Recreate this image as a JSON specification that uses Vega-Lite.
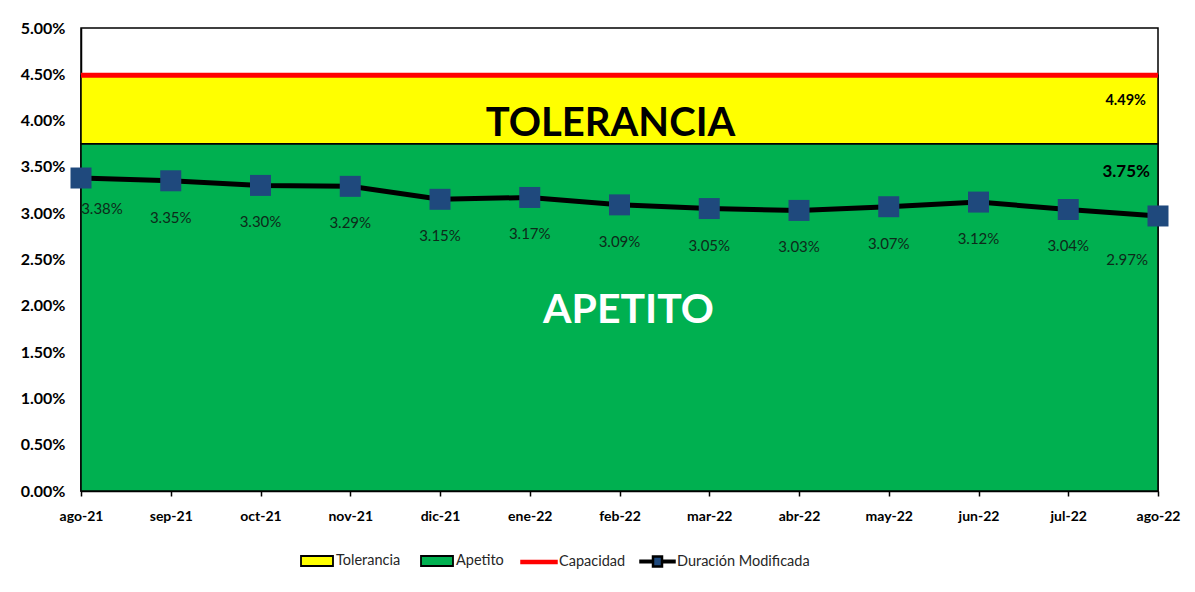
{
  "$schema": "https://vega.github.io/schema/vega-lite/v6.json",
  "width": 1077,
  "height": 463,
  "autosize": {"type": "none"},
  "padding": {"left": 81, "top": 28, "right": 37, "bottom": 101},
  "background": "white",
  "config": {
    "view": {"stroke": "black", "strokeWidth": 1.5},
    "font": "Lato",
    "legend": {
      "title": null,
      "orient": "none",
      "symbolSize": 400,
      "labelOffset": 8,
      "labelFont": "Lato",
      "labelFontSize": 14.5,
      "labelColor": "#262626",
      "legendY": 522
    }
  },
  "resolve": {"scale": {"color": "independent"}, "legend": {"color": "independent"}},
  "data": {
    "values": [
      {"mes": "ago-21", "apetito": 0.0375, "tolerancia": 0.0449, "capacidad": 0.0449, "duracion": 0.0338},
      {"mes": "sep-21", "apetito": 0.0375, "tolerancia": 0.0449, "capacidad": 0.0449, "duracion": 0.0335},
      {"mes": "oct-21", "apetito": 0.0375, "tolerancia": 0.0449, "capacidad": 0.0449, "duracion": 0.0330},
      {"mes": "nov-21", "apetito": 0.0375, "tolerancia": 0.0449, "capacidad": 0.0449, "duracion": 0.0329},
      {"mes": "dic-21", "apetito": 0.0375, "tolerancia": 0.0449, "capacidad": 0.0449, "duracion": 0.0315},
      {"mes": "ene-22", "apetito": 0.0375, "tolerancia": 0.0449, "capacidad": 0.0449, "duracion": 0.0317},
      {"mes": "feb-22", "apetito": 0.0375, "tolerancia": 0.0449, "capacidad": 0.0449, "duracion": 0.0309},
      {"mes": "mar-22", "apetito": 0.0375, "tolerancia": 0.0449, "capacidad": 0.0449, "duracion": 0.0305},
      {"mes": "abr-22", "apetito": 0.0375, "tolerancia": 0.0449, "capacidad": 0.0449, "duracion": 0.0303},
      {"mes": "may-22", "apetito": 0.0375, "tolerancia": 0.0449, "capacidad": 0.0449, "duracion": 0.0307},
      {"mes": "jun-22", "apetito": 0.0375, "tolerancia": 0.0449, "capacidad": 0.0449, "duracion": 0.0312},
      {"mes": "jul-22", "apetito": 0.0375, "tolerancia": 0.0449, "capacidad": 0.0449, "duracion": 0.0304},
      {"mes": "ago-22", "apetito": 0.0375, "tolerancia": 0.0449, "capacidad": 0.0449, "duracion": 0.0297}
    ]
  },
  "encoding": {
    "x": {
      "field": "mes",
      "type": "ordinal",
      "sort": null,
      "scale": {
        "type": "point",
        "padding": 0,
        "domain": ["ago-21","sep-21","oct-21","nov-21","dic-21","ene-22","feb-22","mar-22","abr-22","may-22","jun-22","jul-22","ago-22"]
      },
      "axis": {
        "title": null,
        "labelAngle": 0,
        "labelFont": "Lato",
        "labelFontWeight": "bold",
        "labelFontSize": 14,
        "labelColor": "black",
        "labelPadding": 13,
        "tickSize": 5,
        "tickColor": "black",
        "tickWidth": 1.5,
        "domainColor": "black",
        "domainWidth": 1.5,
        "grid": false
      }
    }
  },
  "layer": [
    {
      "mark": {"type": "area", "stroke": "black", "strokeWidth": 1.5, "opacity": 1},
      "encoding": {
        "y": {
          "field": "apetito",
          "type": "quantitative",
          "scale": {"domain": [0, 0.05], "nice": false},
          "axis": {
            "title": null,
            "format": ".2%",
            "values": [0, 0.005, 0.01, 0.015, 0.02, 0.025, 0.03, 0.035, 0.04, 0.045, 0.05],
            "labelFont": "Lato",
            "labelFontWeight": "bold",
            "labelFontSize": 16,
            "labelColor": "black",
            "labelPadding": 16,
            "ticks": false,
            "grid": false,
            "domainColor": "black",
            "domainWidth": 1.5
          }
        },
        "y2": {"datum": 0},
        "color": {
          "datum": "Apetito",
          "scale": {"domain": ["Apetito"], "range": ["#00B050"]},
          "legend": {
            "legendX": 345,
            "symbolType": "M-1.6,-0.5H1.6V0.5H-1.6Z",
            "symbolStrokeColor": "black",
            "symbolStrokeWidth": 1.8
          }
        }
      }
    },
    {
      "mark": {"type": "area", "stroke": "black", "strokeWidth": 1.5, "opacity": 1},
      "encoding": {
        "y": {"field": "tolerancia", "type": "quantitative"},
        "y2": {"field": "apetito"},
        "color": {
          "datum": "Tolerancia",
          "scale": {"domain": ["Tolerancia"], "range": ["#FFFF00"]},
          "legend": {
            "legendX": 225,
            "symbolType": "M-1.6,-0.5H1.6V0.5H-1.6Z",
            "symbolStrokeColor": "black",
            "symbolStrokeWidth": 1.8
          }
        }
      }
    },
    {
      "mark": {"type": "line", "strokeWidth": 5},
      "encoding": {
        "y": {"field": "capacidad", "type": "quantitative"},
        "color": {
          "datum": "Capacidad",
          "scale": {"domain": ["Capacidad"], "range": ["#FF0000"]},
          "legend": {
            "legendX": 446,
            "symbolType": "M-1.7,-0.06H1.7V0.06H-1.7Z",
            "symbolFillColor": "#FF0000",
            "symbolStrokeWidth": 3.5
          }
        }
      }
    },
    {
      "mark": {"type": "line", "strokeWidth": 5, "color": "black"},
      "encoding": {
        "y": {"field": "duracion", "type": "quantitative"}
      }
    },
    {
      "mark": {"type": "point", "shape": "square", "size": 441, "filled": true, "opacity": 1},
      "encoding": {
        "y": {"field": "duracion", "type": "quantitative"},
        "color": {
          "datum": "Duración Modificada",
          "scale": {"domain": ["Duración Modificada"], "range": ["#1F497D"]},
          "legend": {
            "legendX": 565,
            "symbolType": "M-1.7,-0.08H-0.45V-0.5H0.45V-0.08H1.7V0.08H0.45V0.5H-0.45V0.08H-1.7Z",
            "symbolStrokeColor": "black",
            "symbolStrokeWidth": 2.5
          }
        }
      }
    },
    {
      "transform": [{"filter": {"not": {"field": "mes", "oneOf": ["ago-21", "ago-22"]}}}],
      "mark": {"type": "text", "dy": 37, "baseline": "middle", "align": "center", "font": "Lato", "fontSize": 15, "color": "#0d2a1a"},
      "encoding": {
        "y": {"field": "duracion", "type": "quantitative"},
        "text": {"field": "duracion", "type": "quantitative", "format": ".2%"}
      }
    },
    {
      "transform": [{"filter": {"field": "mes", "equal": "ago-21"}}],
      "mark": {"type": "text", "dy": 31, "dx": 21, "baseline": "middle", "align": "center", "font": "Lato", "fontSize": 15, "color": "#0d2a1a"},
      "encoding": {
        "y": {"field": "duracion", "type": "quantitative"},
        "text": {"field": "duracion", "type": "quantitative", "format": ".2%"}
      }
    },
    {
      "transform": [{"filter": {"field": "mes", "equal": "ago-22"}}],
      "mark": {"type": "text", "dy": 44, "dx": -10, "baseline": "middle", "align": "right", "font": "Lato", "fontSize": 15, "color": "#0d2a1a"},
      "encoding": {
        "y": {"field": "duracion", "type": "quantitative"},
        "text": {"field": "duracion", "type": "quantitative", "format": ".2%"}
      }
    },
    {
      "transform": [{"filter": {"field": "mes", "equal": "ago-22"}}],
      "mark": {"type": "text", "dy": 26, "dx": -12, "baseline": "middle", "align": "right", "font": "Lato", "fontWeight": "bold", "fontSize": 14.5, "color": "black"},
      "encoding": {
        "y": {"field": "capacidad", "type": "quantitative"},
        "text": {"field": "capacidad", "type": "quantitative", "format": ".2%"}
      }
    },
    {
      "transform": [{"filter": {"field": "mes", "equal": "ago-22"}}],
      "mark": {"type": "text", "dy": 28, "dx": -8, "baseline": "middle", "align": "right", "font": "Lato", "fontWeight": "bold", "fontSize": 17, "color": "black"},
      "encoding": {
        "y": {"field": "apetito", "type": "quantitative"},
        "text": {"field": "apetito", "type": "quantitative", "format": ".2%"}
      }
    },
    {
      "data": {"values": [{"mes": "feb-22", "v": 0.0396, "t": "TOLERANCIA"}]},
      "mark": {"type": "text", "dx": -9, "baseline": "middle", "align": "center", "font": "Lato", "fontWeight": "bold", "fontSize": 40, "color": "black"},
      "encoding": {
        "y": {"field": "v", "type": "quantitative"},
        "text": {"field": "t"}
      }
    },
    {
      "data": {"values": [{"mes": "feb-22", "v": 0.0194, "t": "APETITO"}]},
      "mark": {"type": "text", "dx": 9, "baseline": "middle", "align": "center", "font": "Lato", "fontWeight": "bold", "fontSize": 41, "color": "white"},
      "encoding": {
        "y": {"field": "v", "type": "quantitative"},
        "text": {"field": "t"}
      }
    }
  ]
}
